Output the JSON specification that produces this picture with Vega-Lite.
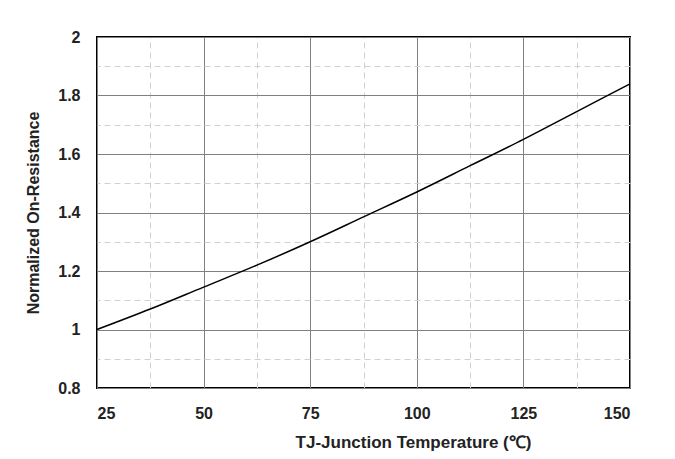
{
  "$schema": "https://vega.github.io/schema/vega-lite/v6.json",
  "width": 533,
  "height": 351,
  "autosize": "none",
  "padding": {"left": 97, "top": 37, "right": 45, "bottom": 71},
  "background": "white",
  "config": {
    "view": {"stroke": "black", "strokeWidth": 2},
    "font": "Liberation Sans"
  },
  "data": {
    "values": [
      {"t": 25, "r": 1.0},
      {"t": 37.5, "r": 1.07},
      {"t": 50, "r": 1.145},
      {"t": 62.5, "r": 1.22},
      {"t": 75, "r": 1.3},
      {"t": 87.5, "r": 1.385},
      {"t": 100, "r": 1.47},
      {"t": 112.5, "r": 1.56},
      {"t": 125, "r": 1.65},
      {"t": 137.5, "r": 1.745},
      {"t": 150, "r": 1.84}
    ]
  },
  "layer": [
    {
      "mark": {"type": "line", "opacity": 0},
      "encoding": {
        "x": {
          "field": "t", "type": "quantitative",
          "scale": {"domain": [25, 150], "nice": false, "zero": false},
          "axis": {"orient": "top", "values": [37.5, 62.5, 87.5, 112.5, 137.5], "labels": false, "ticks": false, "domain": false, "title": null, "grid": true, "gridColor": "#d0d0d0", "gridDash": [6, 4], "gridWidth": 1}
        },
        "y": {
          "field": "r", "type": "quantitative",
          "scale": {"domain": [0.8, 2], "nice": false, "zero": false},
          "axis": {"orient": "right", "values": [0.9, 1.1, 1.3, 1.5, 1.7, 1.9], "labels": false, "ticks": false, "domain": false, "title": null, "grid": true, "gridColor": "#d0d0d0", "gridDash": [6, 4], "gridWidth": 1}
        }
      }
    },
    {
      "mark": {"type": "line", "color": "black", "strokeWidth": 1.5, "interpolate": "monotone"},
      "encoding": {
        "x": {
          "field": "t", "type": "quantitative",
          "scale": {"domain": [25, 150], "nice": false, "zero": false},
          "axis": {
            "orient": "bottom", "values": [25, 50, 75, 100, 125, 150],
            "ticks": false, "domain": false, "grid": true, "gridColor": "#808080", "gridWidth": 1,
            "labelFont": "Liberation Sans", "labelFontWeight": "bold", "labelFontSize": 16, "labelColor": "#222222", "labelPadding": 17,
            "title": "TJ-Junction Temperature (℃)", "titleFont": "Liberation Sans", "titleFontWeight": "bold", "titleFontSize": 17, "titleColor": "#222222", "titlePadding": 13, "titleX": 316
          }
        },
        "y": {
          "field": "r", "type": "quantitative",
          "scale": {"domain": [0.8, 2], "nice": false, "zero": false},
          "axis": {
            "orient": "left", "values": [0.8, 1, 1.2, 1.4, 1.6, 1.8, 2],
            "labelExpr": "format(datum.value, '~g')",
            "ticks": false, "domain": false, "grid": true, "gridColor": "#808080", "gridWidth": 1,
            "labelFont": "Liberation Sans", "labelFontWeight": "bold", "labelFontSize": 16, "labelColor": "#222222", "labelPadding": 17,
            "title": "Normalized On-Resistance", "titleFont": "Liberation Sans", "titleFontWeight": "bold", "titleFontSize": 16, "titleColor": "#222222", "titlePadding": 16
          }
        }
      }
    }
  ],
  "resolve": {"axis": {"x": "independent", "y": "independent"}}
}
